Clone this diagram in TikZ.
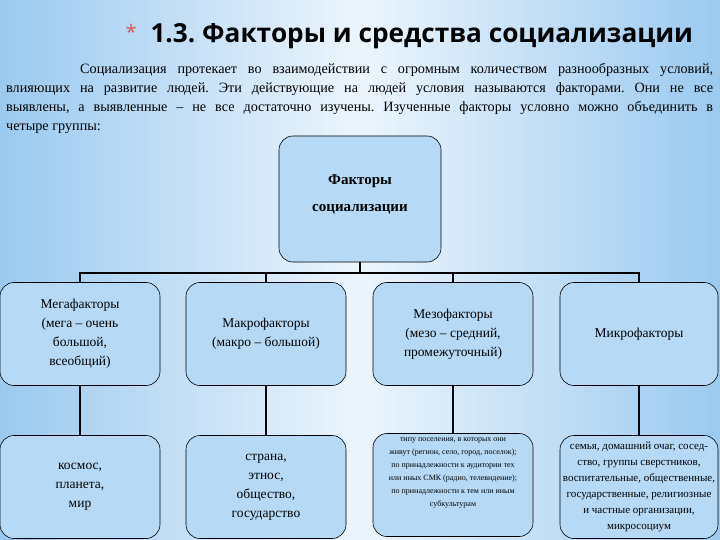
\documentclass[tikz,border=0pt]{standalone}
\usepackage{fontspec}
\setmainfont{Liberation Serif}
\newfontfamily\titlefont{Open Sans}
\definecolor{bgedge}{RGB}{155,202,240}
\definecolor{bgmid}{RGB}{236,245,252}
\definecolor{boxfill}{RGB}{182,218,246}
\definecolor{stargray}{RGB}{225,80,90}
\tikzset{
  fbox/.style={draw=black, line width=0.6pt, fill=boxfill, rounded corners=14pt,
    minimum width=160pt, minimum height=103pt, align=center, inner sep=2pt,
    font=\fontsize{13.5}{19}\selectfont},
  conn/.style={draw=black, line width=1.8pt}
}
\frenchspacing
\begin{document}
\begin{tikzpicture}[x=1pt,y=-1pt]
\useasboundingbox (0,0) rectangle (720,540);
\shade[left color=bgedge, right color=bgedge, middle color=bgmid] (0,0) rectangle (720,540);
% title
\node[anchor=base west, text=stargray, font=\titlefont\fontsize{20}{20}\selectfont] (star) at (122,40) {*};
\node[anchor=base west, font=\titlefont\bfseries\fontsize{26.2}{26}\selectfont] (title) at (147,43) {1.3. Факторы и средства социализации};
% paragraph
\node[anchor=north west, text width=707pt, align=justify, inner sep=0pt,
  font=\fontsize{14.2}{19}\selectfont] (para) at (6,63)
 {\hspace*{74pt}Социализация протекает во взаимодействии с огромным количеством разнообразных условий,\linebreak
 влияющих на развитие людей. Эти действующие на людей условия называются факторами. Они не все\linebreak
 выявлены, а выявленные – не все достаточно изучены. Изученные факторы условно можно объединить в\linebreak
 четыре группы:};
% top box
\node[fbox, minimum width=162pt, minimum height=126pt, font=\bfseries\fontsize{15}{27}\selectfont] (top) at (360,199) {Факторы\\социализации\\[-15pt]};
% row 2
\node[fbox] (m1) at (80,334) {Мегафакторы\\(мега – очень\\большой,\\всеобщий)};
\node[fbox] (m2) at (266,334) {Макрофакторы\\(макро – большой)};
\node[fbox] (m3) at (453,334) {Мезофакторы\\(мезо – средний,\\промежуточный)};
\node[fbox, minimum width=158pt] (m4) at (639,334) {Микрофакторы};
% row 3
\node[fbox] (b1) at (80,487) {космос,\\планета,\\мир};
\node[fbox] (b2) at (266,487) {страна,\\этнос,\\общество,\\государство};
\node[fbox, font=\fontsize{8}{13}\selectfont] (b3) at (453,485) {типу поселения, в которых они\\живут (регион, село, город, поселок);\\по принадлежности к аудитории тех\\или иных СМК (радио, телевидение);\\по принадлежности к тем или иным\\субкультурам\\[12pt]};
\node[fbox, minimum width=158pt, font=\fontsize{11}{16}\selectfont] (b4) at (639,487) {семья, домашний очаг, сосед-\\ство, группы сверстников,\\воспитательные, общественные,\\государственные, религиозные\\и частные организации,\\микросоциум};
% connectors
\coordinate (j) at (360,273);
\draw[conn, line width=1.4pt] (top.south) -- (j);
\draw[conn, line width=1.4pt] (m1.north) |- (j) -| (m4.north);
\draw[conn, line width=1.4pt] (m2.north) -- (m2.north |- j);
\draw[conn, line width=1.4pt] (m3.north) -- (m3.north |- j);
\draw[conn] (m1) -- (b1);
\draw[conn] (m2) -- (b2);
\draw[conn] (m3) -- (b3);
\draw[conn] (m4) -- (b4);
\end{tikzpicture}
\end{document}
